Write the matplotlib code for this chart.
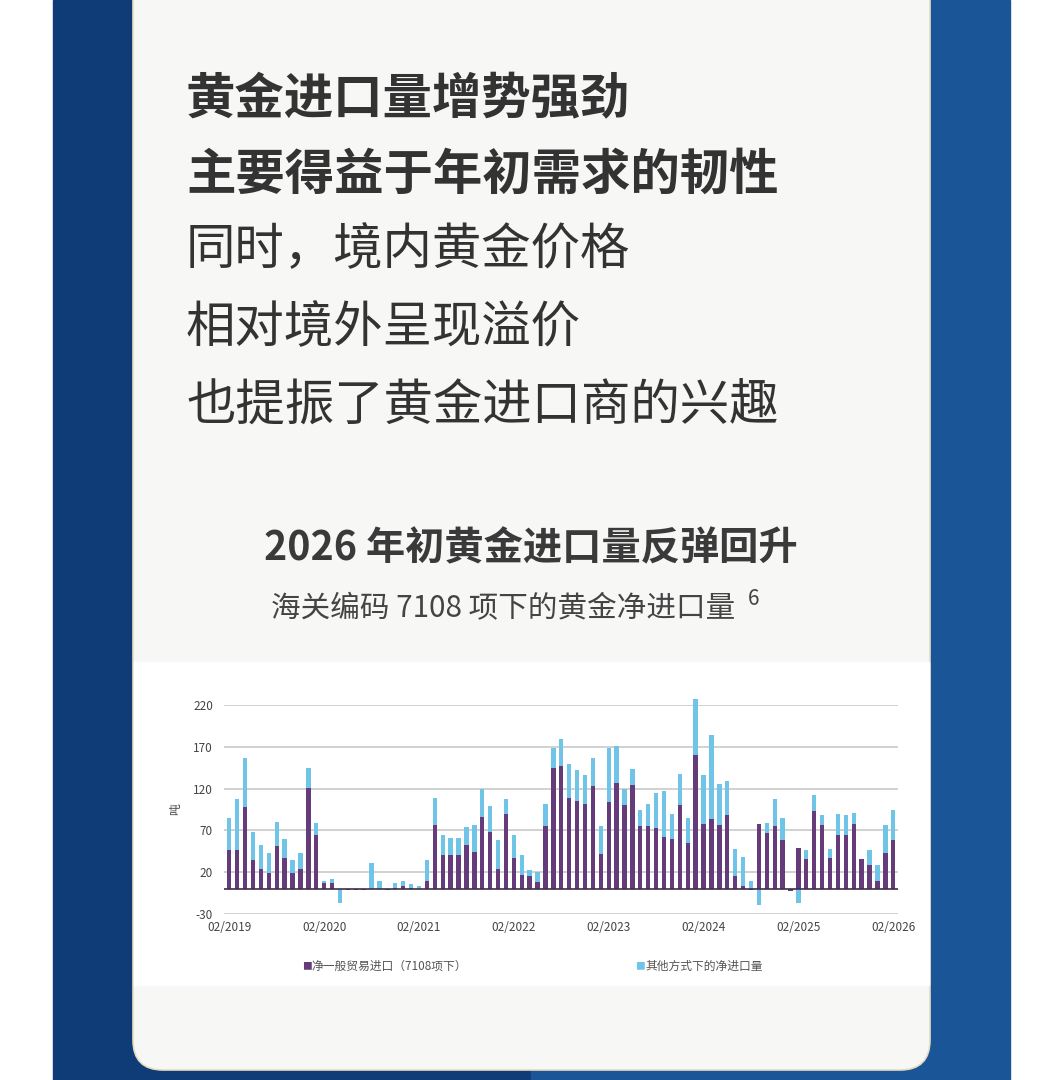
import matplotlib
matplotlib.use("Agg")
import matplotlib.pyplot as plt
import numpy as np
from matplotlib.patches import Rectangle, FancyBboxPatch

plt.rcParams['font.family'] = ['Noto Sans CJK SC', 'DejaVu Sans']

# monthly net imports (tonnes), 02/2019 .. 02/2026
general_trade = [47, 46, 98, 35, 24, 19, 51, 37, 19, 24, 121, 64,
                 7, 7, 0, -1, -1, -1, 0, 0, -1, 1, 3, 1,
                 0, 9, 77, 40, 40, 40, 52, 44, 86, 68, 24, 90,
                 37, 17, 15, 8, 75, 145, 147, 109, 105, 102, 123, 42,
                 104, 127, 100, 124, 75, 75, 73, 62, 60, 100, 55, 160,
                 78, 84, 76, 88, 15, 4, -1, 78, 67, 75, 59, -3,
                 49, 36, 93, 77, 37, 64, 64, 78, 36, 29, 10, 43,
                 58]
other_routes = [38, 61, 59, 33, 28, 24, 29, 23, 15, 19, 24, 15,
                3, 5, -17, 0, 0, 0, 31, 9, 0, 6, 6, 5,
                4, 25, 32, 24, 21, 21, 22, 33, 34, 31, 34, 18,
                28, 24, 8, 12, 27, 23, 32, 41, 37, 34, 34, 33,
                64, 44, 20, 20, 19, 27, 42, 55, 30, 38, 30, 67,
                58, 100, 49, 41, 33, 34, 9, -19, 12, 33, 26, 0,
                -17, 11, 19, 12, 11, 26, 24, 13, 0, 18, 19, 34,
                37]
tick_labels = ["02/2019", "02/2020", "02/2021", "02/2022",
               "02/2023", "02/2024", "02/2025", "02/2026"]
y_ticks = [-30, 20, 70, 120, 170, 220]

headline = ["黄金进口量增势强劲", "主要得益于年初需求的韧性"]
body = ["同时，境内黄金价格", "相对境外呈现溢价", "也提振了黄金进口商的兴趣"]
chart_title = "2026 年初黄金进口量反弹回升"
chart_subtitle = "海关编码 7108 项下的黄金净进口量"
legend_labels = ["净一般贸易进口（7108项下）", "其他方式下的净进口量"]

PURPLE = "#653c79"
BLUE = "#6fc4e8"
W, H = 1064, 1080

fig = plt.figure(figsize=(W / 100, H / 100), dpi=100)
fig.patch.set_facecolor("white")

# background in pixel coords
bg = fig.add_axes([0, 0, 1, 1], zorder=0)
bg.set_xlim(0, W)
bg.set_ylim(H, 0)
bg.axis("off")
bg.add_patch(Rectangle((53, 0), 478, H, color="#0f3b77"))
bg.add_patch(Rectangle((531, 0), 479, H, color="#1a5697"))
bg.add_patch(FancyBboxPatch((133, -60), 797, 1130,
                            boxstyle="round,pad=0,rounding_size=30",
                            facecolor="#f7f7f6", edgecolor="#e6dcc0", lw=1.2))
bg.add_patch(Rectangle((134, 662), 795, 323, color="white"))

ys = [100, 175, 250, 328, 407]
for i, line in enumerate(headline + body):
    bg.text(186, ys[i], line, fontsize=35.6, color="#333333", va="center", ha="left",
            fontweight="bold" if i < 2 else "normal")

bg.text(531, 549, chart_title, fontsize=28.3, fontweight="bold", color="#3a3a3a",
        ha="center", va="center")
bg.text(503, 609, chart_subtitle, fontsize=21.3, color="#444444",
        ha="center", va="center")
bg.text(748, 599, "6", fontsize=15, color="#444444", ha="left", va="center")

# legend
bg.text(302, 966, "■", fontsize=7, color=PURPLE, va="center", ha="left")
bg.text(311, 966, legend_labels[0], fontsize=8.5, color="#555555", va="center", ha="left")
bg.text(635, 966, "■", fontsize=7, color=BLUE, va="center", ha="left")
bg.text(645, 966, legend_labels[1], fontsize=8.5, color="#555555", va="center", ha="left")

# chart
ax = fig.add_axes([224 / W, 1 - 914 / H, (898 - 224) / W, 209 / H], zorder=2)
ax.patch.set_alpha(0)
g = np.array(general_trade, dtype=float)
o = np.array(other_routes, dtype=float)
x = np.arange(len(g))
bottom = np.where(np.sign(o) == np.sign(g), g, 0)
ax.bar(x, g, width=0.55, color=PURPLE, zorder=3, clip_on=False)
ax.bar(x, o, bottom=bottom, width=0.55, color=BLUE, zorder=3, clip_on=False)

ax.set_xlim(-0.67, 84.6)
ax.set_ylim(-30, 220)
ax.set_yticks(y_ticks)
ax.set_yticklabels([str(v) for v in y_ticks])
ax.set_xticks(np.arange(0, 85, 12))
ax.set_xticklabels(tick_labels)
ax.grid(axis="y", color="#c9c9c9", lw=1.2, zorder=0)
ax.axhline(0, color="#3d2f4a", lw=1.2, zorder=4)
for s in ax.spines.values():
    s.set_visible(False)
ax.tick_params(length=0, labelsize=8.5, colors="#444444")
ax.tick_params(axis="y", pad=8)
ax.tick_params(axis="x", pad=5)
ax.set_ylabel("吨", fontsize=8.5, color="#444444", labelpad=8)

fig.savefig("out.png", dpi=100)
